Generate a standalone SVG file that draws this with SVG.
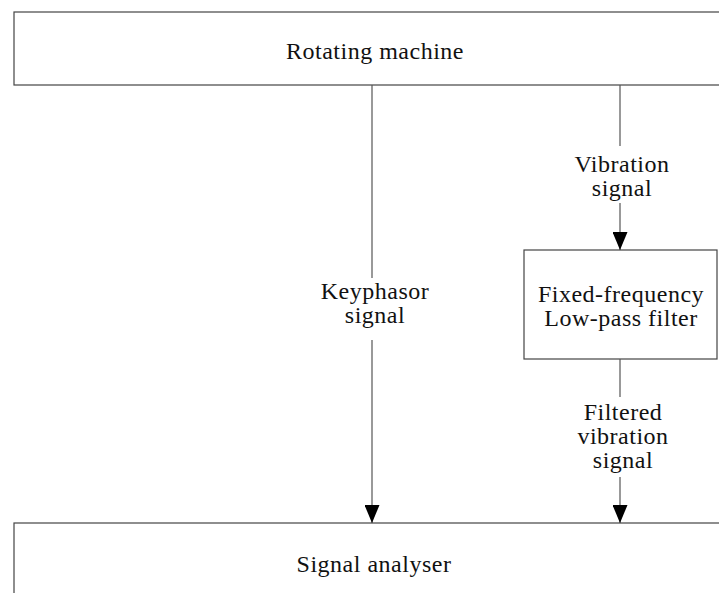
<svg xmlns="http://www.w3.org/2000/svg" width="719" height="593" viewBox="0 0 719 593">
<defs>
<style>
.box{fill:#fff;stroke:#444;stroke-width:1.2}
.ln{stroke:#555;stroke-width:1.2;fill:none}
.t{fill:#111;text-anchor:middle;font-family:'Liberation Serif',serif;font-size:24px;letter-spacing:0.5px}
</style>
<marker id="ah" viewBox="0 0 18 15" refX="18" refY="7.5" markerUnits="userSpaceOnUse" markerWidth="18" markerHeight="15" orient="auto">
<path d="M0,0 L18,7.5 L0,15 z" fill="#000"/>
</marker>
</defs>
<rect width="719" height="593" fill="#fff"/>
<g id="rotating-machine">
<rect class="box" x="14" y="12" width="720" height="73"/>
<text class="t" x="375" y="59">Rotating machine</text>
</g>
<g id="filter">
<rect class="box" x="524" y="250" width="193" height="109"/>
<text class="t" x="621" y="302">Fixed-frequency</text>
<text class="t" x="621" y="326">Low-pass filter</text>
</g>
<g id="signal-analyser">
<rect class="box" x="14" y="523" width="720" height="90"/>
<text class="t" x="374" y="572">Signal analyser</text>
</g>
<g id="connectors">
<line class="ln" x1="372" y1="85" x2="372" y2="278"/>
<line class="ln" x1="372" y1="340" x2="372" y2="523" marker-end="url(#ah)"/>
<text class="t" x="375" y="299">Keyphasor</text>
<text class="t" x="375" y="323">signal</text>
<line class="ln" x1="620" y1="85" x2="620" y2="146"/>
<line class="ln" x1="620" y1="203" x2="620" y2="250" marker-end="url(#ah)"/>
<text class="t" x="622" y="172">Vibration</text>
<text class="t" x="622" y="196">signal</text>
<line class="ln" x1="620" y1="359" x2="620" y2="397"/>
<line class="ln" x1="620" y1="477" x2="620" y2="523" marker-end="url(#ah)"/>
<text class="t" x="623" y="420">Filtered</text>
<text class="t" x="623" y="444">vibration</text>
<text class="t" x="623" y="468">signal</text>
</g>
</svg>
